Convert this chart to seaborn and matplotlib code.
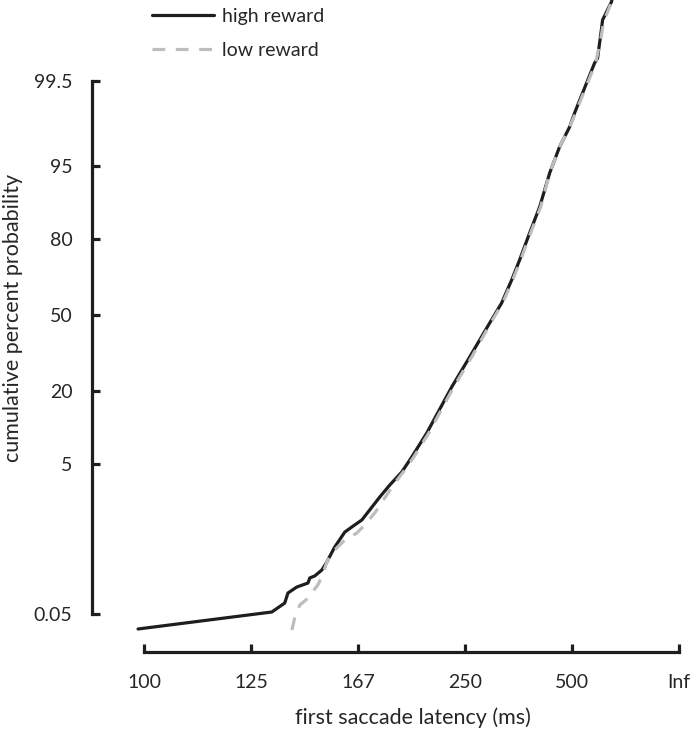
import numpy as np
import pandas as pd
import matplotlib
matplotlib.use("Agg")
import matplotlib.pyplot as plt
import seaborn as sns
from statistics import NormalDist

# latency (ms) and cumulative percent
high_latency = [98.9, 131.4, 135.7, 136.8, 140.0, 144.2, 144.9, 146.9, 149.8, 151.9,
                155.4, 160.1, 163.5, 168.7, 178.8, 185.0, 193.0, 200.2, 212.1, 228.4,
                235.4, 255.6, 282.6, 301.7, 319.7, 335.7, 358.2, 383.9, 413.6, 448.0,
                489.0, 512.6, 579.0, 633.7, 657.0, 691.1, 699.8, 793.0, 830.0]
high_pct = [0.0272, 0.0536, 0.0757, 0.110, 0.137, 0.158, 0.189, 0.203, 0.249, 0.326,
            0.531, 0.842, 0.977, 1.20, 2.25, 3.06, 4.19, 5.89, 9.68, 17.5,
            21.4, 32.2, 46.5, 55.3, 65.0, 72.8, 81.7, 88.3, 94.1, 96.8,
            98.08, 98.70, 99.47, 99.724, 99.767, 99.921, 99.942, 99.972, 99.985]

low_latency = [138.2, 139.3, 141.1, 143.8, 148.1, 149.8, 151.9, 154.5, 160.1, 166.1,
               170.3, 175.8, 181.8, 188.2, 195.1, 201.7, 213.8, 230.3, 237.5, 258.1,
               284.1, 303.4, 321.6, 337.8, 360.6, 386.7, 413.6, 448.0, 489.0, 517.4,
               585.2, 641.4, 682.1, 709.2, 793.0, 830.0]
low_pct = [0.0261, 0.0443, 0.0701, 0.088, 0.147, 0.196, 0.326, 0.453, 0.661, 0.818,
           1.04, 1.46, 2.19, 3.21, 4.39, 5.89, 9.68, 17.5, 21.4, 32.2,
           46.5, 55.3, 65.0, 72.8, 81.7, 88.3, 94.1, 96.8, 98.08, 98.70,
           99.47, 99.724, 99.877, 99.937, 99.972, 99.985]

xtick_labels = ["100", "125", "167", "250", "500", "Inf"]
xtick_latency = [100, 125, 1000 / 6, 250, 500, np.inf]
ytick_labels = ["0.05", "5", "20", "50", "80", "95", "99.5"]
ytick_pct = [0.05, 5, 20, 50, 80, 95, 99.5]

nd = NormalDist()


def recip(t):
    return -1000.0 / np.asarray(t, dtype=float)


def probit(p):
    return np.array([nd.inv_cdf(v / 100.0) for v in p])


df = pd.concat([
    pd.DataFrame({"x": recip(high_latency), "z": probit(high_pct), "cond": "high reward"}),
    pd.DataFrame({"x": recip(low_latency), "z": probit(low_pct), "cond": "low reward"}),
])

sns.set_style("ticks")
plt.rcParams["font.family"] = ["Lato", "DejaVu Sans"]

W, H = 692, 729
fig = plt.figure(figsize=(W / 100, H / 100), dpi=100)
ax = fig.add_axes([135 / W, (H - 636) / H, (690 - 135) / W, 636 / H])

ink = "#1e1e1e"
txt = "#262626"
sns.lineplot(data=df, x="x", y="z", hue="cond", style="cond",
             palette={"high reward": ink, "low reward": "#bdbdbd"},
             dashes={"high reward": "", "low reward": (4, 3.3)},
             estimator=None, sort=False, lw=2.3, ax=ax)

# gray dashes sit on top of the black line like in the original
for line in ax.get_lines():
    if line.get_color() == "#bdbdbd":
        line.set_zorder(4)


def px_to_x(px):
    return -10 + (px - 144) / 53.5


def py_to_z(py):
    return (315 - py) / 90.8


ax.set_xlim(px_to_x(135), px_to_x(690))
ax.set_ylim(py_to_z(636), py_to_z(0))

ax.set_xticks(recip(xtick_latency))
ax.set_xticklabels(xtick_labels)
ax.set_yticks(probit(ytick_pct))
ax.set_yticklabels(ytick_labels)

sns.despine(ax=ax)
ax.spines["left"].set_position(("outward", 31))
ax.spines["bottom"].set_position(("outward", 11.5))
ax.spines["left"].set_bounds(probit([0.05])[0], probit([99.5])[0])
ax.spines["bottom"].set_bounds(-10, 0)
for s in ("left", "bottom"):
    ax.spines[s].set_linewidth(2.3)
    ax.spines[s].set_color(ink)

ax.tick_params(axis="both", direction="in", length=6, width=2.3, color=ink,
               labelsize=14, labelcolor=txt)
ax.tick_params(axis="y", pad=14)
ax.tick_params(axis="x", pad=16)

ax.set_xlabel("first saccade latency (ms)", fontsize=15.5, color=txt, labelpad=12)
ax.set_ylabel("cumulative percent probability", fontsize=15.5, color=txt)
ax.yaxis.set_label_coords((23 - 135) / 555, 0.5)

ax.legend(title=None, frameon=False, fontsize=14, loc="upper left",
          bbox_to_anchor=(152 / W, 1 - 8 / H), bbox_transform=fig.transFigure,
          borderaxespad=0, borderpad=0, handlelength=3.2, handletextpad=0.4,
          labelspacing=0.85)

fig.savefig("out.png", dpi=100)
